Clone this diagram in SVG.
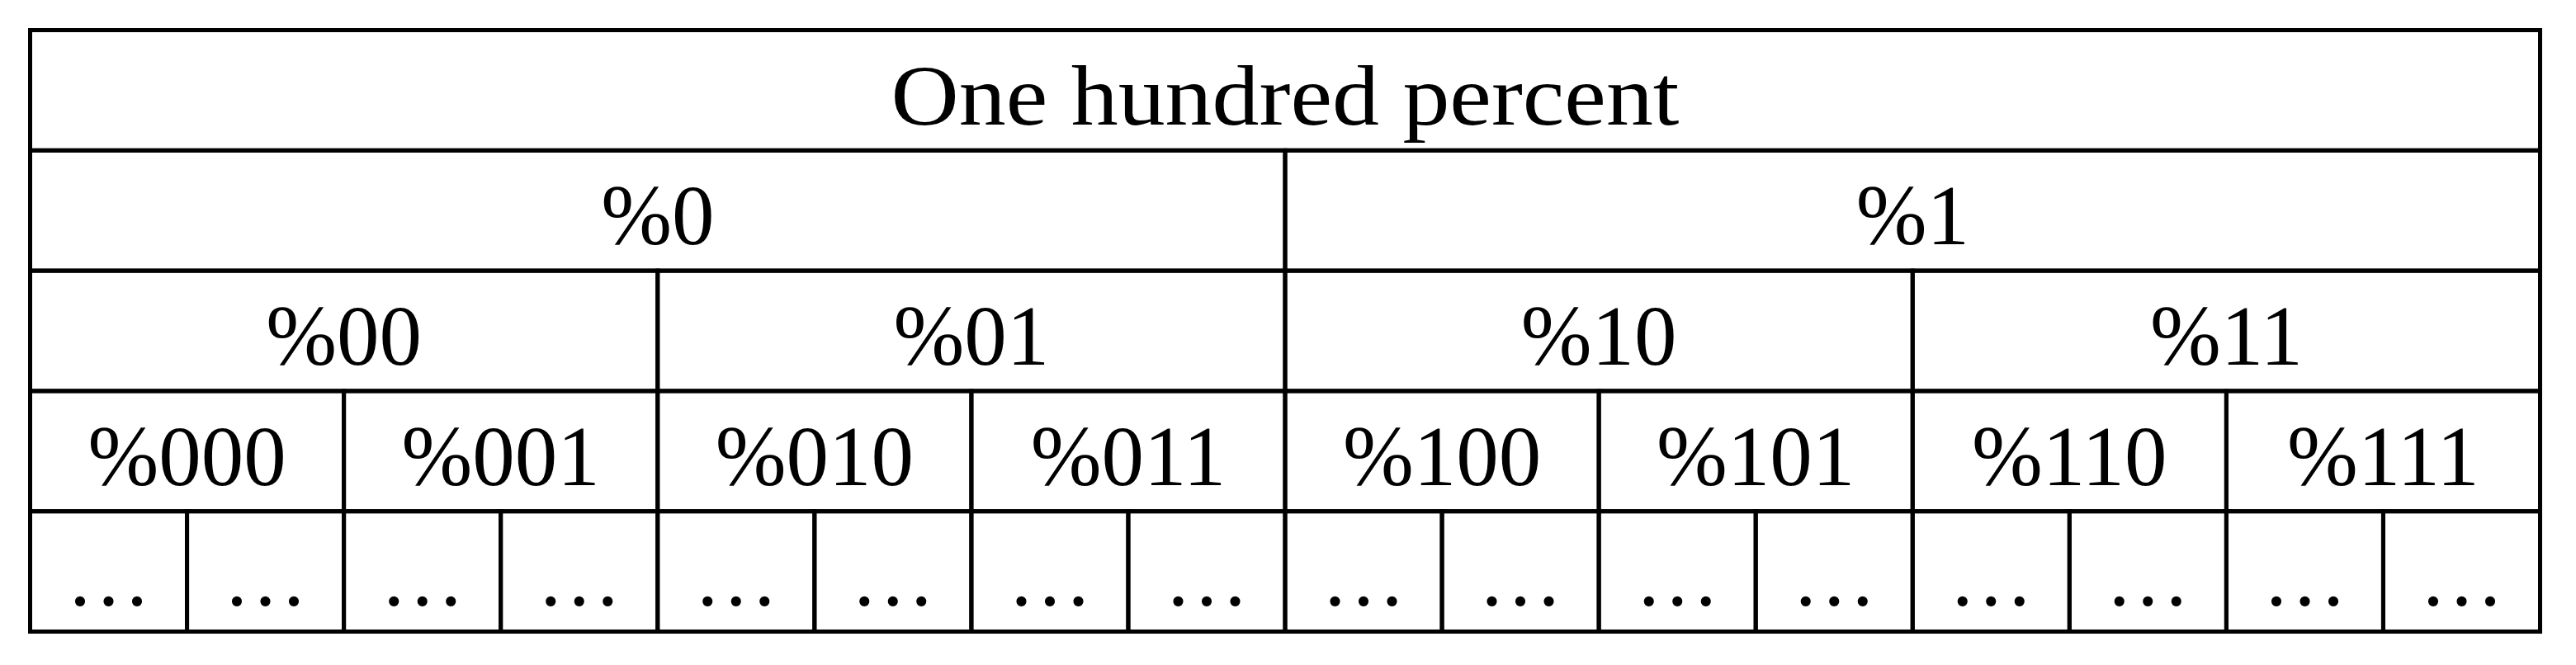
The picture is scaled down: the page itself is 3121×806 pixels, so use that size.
<svg xmlns="http://www.w3.org/2000/svg" width="3121" height="806" viewBox="0 0 3121 806">
<style>
.c{fill:none;stroke:#000;stroke-width:5}
.t{font-family:"Liberation Serif","Times New Roman",serif;font-size:103px;fill:#000;text-anchor:middle}
</style>
<rect width="3121" height="806" fill="#fff"/>
<g id="n-root"><rect class="c" x="36.5" y="36.5" width="3041" height="145.8"/><text class="t" x="1557" y="150.5" textLength="955" lengthAdjust="spacingAndGlyphs">One hundred percent</text></g>
<g id="n-0"><rect class="c" x="36.5" y="182.3" width="1520.5" height="145.8"/><text class="t" x="796.8" y="296.3">%0</text></g>
<g id="n-1"><rect class="c" x="1557" y="182.3" width="1520.5" height="145.8"/><text class="t" x="2317.3" y="296.3">%1</text></g>
<g id="n-00"><rect class="c" x="36.5" y="328.1" width="760.25" height="145.8"/><text class="t" x="416.6" y="442.1">%00</text></g>
<g id="n-01"><rect class="c" x="796.75" y="328.1" width="760.25" height="145.8"/><text class="t" x="1176.9" y="442.1">%01</text></g>
<g id="n-10"><rect class="c" x="1557" y="328.1" width="760.25" height="145.8"/><text class="t" x="1937.1" y="442.1">%10</text></g>
<g id="n-11"><rect class="c" x="2317.25" y="328.1" width="760.25" height="145.8"/><text class="t" x="2697.4" y="442.1">%11</text></g>
<g id="n-000"><rect class="c" x="36.5" y="473.9" width="380.125" height="145.8"/><text class="t" x="226.6" y="588">%000</text></g>
<g id="n-001"><rect class="c" x="416.625" y="473.9" width="380.125" height="145.8"/><text class="t" x="606.7" y="588">%001</text></g>
<g id="n-010"><rect class="c" x="796.75" y="473.9" width="380.125" height="145.8"/><text class="t" x="986.8" y="588">%010</text></g>
<g id="n-011"><rect class="c" x="1176.875" y="473.9" width="380.125" height="145.8"/><text class="t" x="1366.9" y="588">%011</text></g>
<g id="n-100"><rect class="c" x="1557" y="473.9" width="380.125" height="145.8"/><text class="t" x="1747.1" y="588">%100</text></g>
<g id="n-101"><rect class="c" x="1937.125" y="473.9" width="380.125" height="145.8"/><text class="t" x="2127.2" y="588">%101</text></g>
<g id="n-110"><rect class="c" x="2317.25" y="473.9" width="380.125" height="145.8"/><text class="t" x="2507.3" y="588">%110</text></g>
<g id="n-111"><rect class="c" x="2697.375" y="473.9" width="380.125" height="145.8"/><text class="t" x="2887.4" y="588">%111</text></g>
<g id="n-l4-0"><rect class="c" x="36.5" y="619.7" width="190.0625" height="145.8"/><text class="t" x="131.5" y="733.7">…</text></g>
<g id="n-l4-1"><rect class="c" x="226.5625" y="619.7" width="190.0625" height="145.8"/><text class="t" x="321.6" y="733.7">…</text></g>
<g id="n-l4-2"><rect class="c" x="416.625" y="619.7" width="190.0625" height="145.8"/><text class="t" x="511.7" y="733.7">…</text></g>
<g id="n-l4-3"><rect class="c" x="606.6875" y="619.7" width="190.0625" height="145.8"/><text class="t" x="701.7" y="733.7">…</text></g>
<g id="n-l4-4"><rect class="c" x="796.75" y="619.7" width="190.0625" height="145.8"/><text class="t" x="891.8" y="733.7">…</text></g>
<g id="n-l4-5"><rect class="c" x="986.8125" y="619.7" width="190.0625" height="145.8"/><text class="t" x="1081.8" y="733.7">…</text></g>
<g id="n-l4-6"><rect class="c" x="1176.875" y="619.7" width="190.0625" height="145.8"/><text class="t" x="1271.9" y="733.7">…</text></g>
<g id="n-l4-7"><rect class="c" x="1366.9375" y="619.7" width="190.0625" height="145.8"/><text class="t" x="1462" y="733.7">…</text></g>
<g id="n-l4-8"><rect class="c" x="1557" y="619.7" width="190.0625" height="145.8"/><text class="t" x="1652" y="733.7">…</text></g>
<g id="n-l4-9"><rect class="c" x="1747.0625" y="619.7" width="190.0625" height="145.8"/><text class="t" x="1842.1" y="733.7">…</text></g>
<g id="n-l4-10"><rect class="c" x="1937.125" y="619.7" width="190.0625" height="145.8"/><text class="t" x="2032.2" y="733.7">…</text></g>
<g id="n-l4-11"><rect class="c" x="2127.1875" y="619.7" width="190.0625" height="145.8"/><text class="t" x="2222.2" y="733.7">…</text></g>
<g id="n-l4-12"><rect class="c" x="2317.25" y="619.7" width="190.0625" height="145.8"/><text class="t" x="2412.3" y="733.7">…</text></g>
<g id="n-l4-13"><rect class="c" x="2507.3125" y="619.7" width="190.0625" height="145.8"/><text class="t" x="2602.3" y="733.7">…</text></g>
<g id="n-l4-14"><rect class="c" x="2697.375" y="619.7" width="190.0625" height="145.8"/><text class="t" x="2792.4" y="733.7">…</text></g>
<g id="n-l4-15"><rect class="c" x="2887.4375" y="619.7" width="190.0625" height="145.8"/><text class="t" x="2982.5" y="733.7">…</text></g>
<g id="connectors"></g>
</svg>
